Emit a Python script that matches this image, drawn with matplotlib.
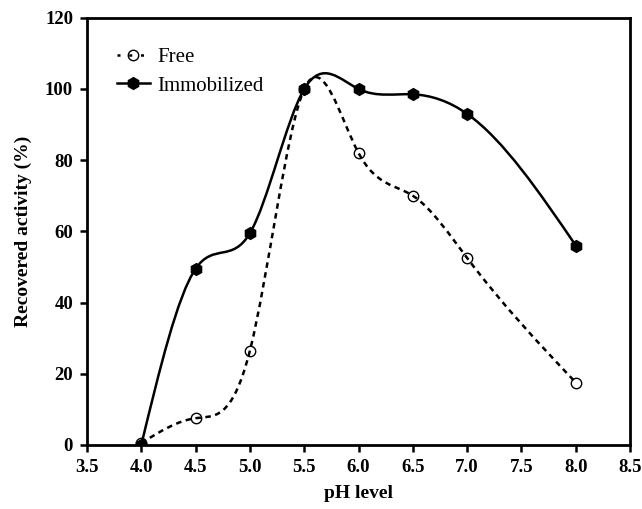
import numpy as np
import matplotlib
matplotlib.use("Agg")
import matplotlib.pyplot as plt
from matplotlib.path import Path
from matplotlib.patches import PathPatch

ph = [4.0, 4.5, 5.0, 5.5, 6.0, 6.5, 7.0, 8.0]
free = [0.5, 7.5, 26.5, 100.0, 82.0, 70.0, 52.5, 17.5]
immobilized = [0.0, 49.5, 59.5, 100.0, 100.0, 98.5, 93.0, 56.0]

xticks = [3.5, 4.0, 4.5, 5.0, 5.5, 6.0, 6.5, 7.0, 7.5, 8.0, 8.5]
yticks = [0, 20, 40, 60, 80, 100, 120]

plt.rcParams["font.family"] = ["Liberation Serif", "DejaVu Serif"]


def spline_slopes(x, y):
    """Slopes of a natural cubic spline through (x, y)."""
    x = np.asarray(x, float)
    y = np.asarray(y, float)
    n = len(x)
    h = np.diff(x)
    A = np.zeros((n, n))
    r = np.zeros(n)
    A[0, 0], A[0, 1] = 2 / h[0], 1 / h[0]
    r[0] = 3 * (y[1] - y[0]) / h[0] ** 2
    A[-1, -2], A[-1, -1] = 1 / h[-1], 2 / h[-1]
    r[-1] = 3 * (y[-1] - y[-2]) / h[-1] ** 2
    for i in range(1, n - 1):
        A[i, i - 1] = 1 / h[i - 1]
        A[i, i] = 2 / h[i - 1] + 2 / h[i]
        A[i, i + 1] = 1 / h[i]
        r[i] = 3 * ((y[i] - y[i - 1]) / h[i - 1] ** 2 + (y[i + 1] - y[i]) / h[i] ** 2)
    return np.linalg.solve(A, r)


def smooth_path(x, y):
    """Spline through the points, drawn as cubic Bezier segments."""
    m = spline_slopes(x, y)
    verts = [(x[0], y[0])]
    codes = [Path.MOVETO]
    for i in range(len(x) - 1):
        d = (x[i + 1] - x[i]) / 3
        verts += [(x[i] + d, y[i] + d * m[i]),
                  (x[i + 1] - d, y[i + 1] - d * m[i + 1]),
                  (x[i + 1], y[i + 1])]
        codes += [Path.CURVE4] * 3
    return Path(verts, codes)


fig = plt.figure(figsize=(6.42, 5.09), dpi=100)
ax = fig.add_axes([0.1355, 0.126, 0.846, 0.839])

ax.add_patch(PathPatch(smooth_path(ph, free), fill=False, color="black",
                       lw=1.8, linestyle=(0, (2.2, 1.8))))
ax.add_patch(PathPatch(smooth_path(ph, immobilized), fill=False, color="black",
                       lw=1.8))

ax.plot(ph, free, linestyle="none", marker="o", ms=7.5, mfc="none",
        mec="black", mew=1.0, zorder=3)
ax.plot(ph, immobilized, linestyle="none", marker="h", ms=8.5, color="black",
        zorder=3)

# legend proxies
ax.plot([], [], color="black", lw=1.8, linestyle=(0, (1.2, 3.5)), marker="o",
        ms=7.5, mfc="none", mec="black", mew=1.0, label="Free")
ax.plot([], [], color="black", lw=1.8, marker="h", ms=8.5, label="Immobilized")
ax.legend(loc="upper left", frameon=False, fontsize=15, handlelength=1.6,
          handletextpad=0.35, labelspacing=0.45, bbox_to_anchor=(0.02, 0.975))

ax.set_xlim(3.5, 8.5)
ax.set_ylim(0, 120)
ax.set_xticks(xticks)
ax.set_yticks(yticks)
ax.set_xticklabels([f"{v:.1f}" for v in xticks], fontweight="bold", fontsize=13.5)
ax.set_yticklabels([str(v) for v in yticks], fontweight="bold", fontsize=13.5)
ax.tick_params(direction="out", length=5, width=1.8, pad=5)
for s in ax.spines.values():
    s.set_linewidth(2.0)

ax.set_xlabel("pH level", fontweight="bold", fontsize=14, labelpad=7)
ax.set_ylabel("Recovered activity (%)", fontweight="bold", fontsize=14,
              labelpad=9)

fig.savefig("out.png", dpi=100)
